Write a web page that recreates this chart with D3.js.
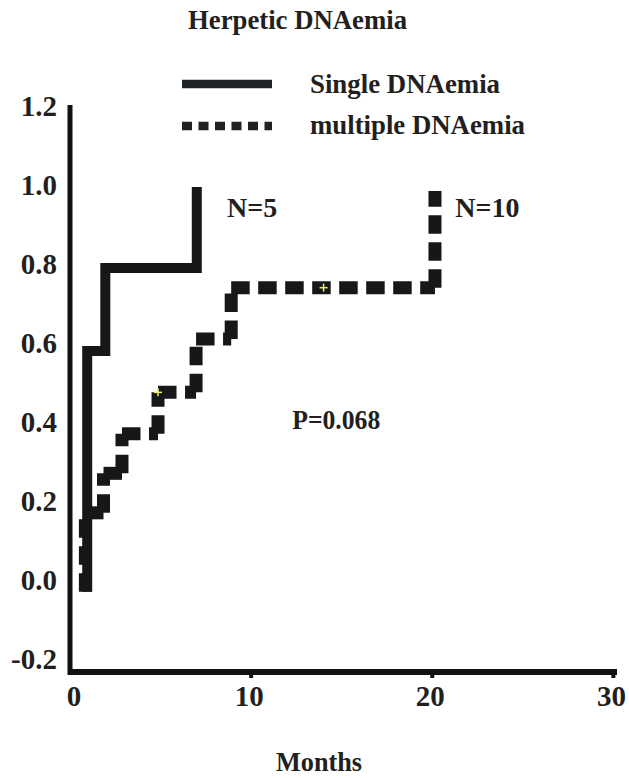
<!DOCTYPE html>
<html lang="en">
<head>
    <meta charset="UTF-8">
    <title>Herpetic DNAemia</title>
    <style>
        body { margin: 0; background: #fff; }
        text {
            font-family: "Liberation Serif", "Times New Roman", serif;
            font-weight: bold;
            fill: #231f20;
        }
        .curve { fill: none; stroke: #161718; stroke-linejoin: miter; }
    </style>
    <script src="https://d3js.org/d3.v7.min.js"></script>
</head>
<body>
    <div id="chart"></div>
    <script>
        // values
        const xTicks = [0, 10, 20, 30];
        const yTicks = [1.2, 1.0, 0.8, 0.6, 0.4, 0.2, 0.0, -0.2];
        const yTickLabels = ["1.2", "1.0", "0.8", "0.6", "0.4", "0.2", "0.0", "-0.2"];

        const startLevel = -0.03;
        const singleMonths = [0.95, 1.95, 7.0];
        const singleCum = [0.58, 0.79, 0.995];
        const multipleMonths = [0.85, 1.85, 2.87, 4.86, 6.96, 8.9, 20.15];
        const multipleCum = [0.17, 0.27, 0.37, 0.475, 0.61, 0.74, 0.985];
        const censorMonths = [4.86, 14.0];
        const censorCum = [0.475, 0.74];

        const width = 629, height = 778;

        const svg = d3.select("#chart")
                      .append("svg")
                      .attr("width", width)
                      .attr("height", height);

        const x = d3.scaleLinear().domain([0, 30.2]).range([70, 617]);
        const y = d3.scaleLinear().domain([-0.233, 1.2]).range([672, 106]);

        // axes (drawn as thick lines like the original)
        svg.append("line")
           .attr("x1", x(0)).attr("x2", x(0))
           .attr("y1", y(1.2) - 1).attr("y2", y(-0.233) + 3)
           .attr("stroke", "#111").attr("stroke-width", 5);
        svg.append("line")
           .attr("x1", x(0) - 2).attr("x2", x(30.2))
           .attr("y1", y(-0.233)).attr("y2", y(-0.233))
           .attr("stroke", "#111").attr("stroke-width", 6);

        svg.selectAll(".xtick")
           .data(xTicks.slice(1))
           .enter()
           .append("line")
           .attr("x1", d => x(d)).attr("x2", d => x(d))
           .attr("y1", y(-0.233)).attr("y2", y(-0.233) + 6)
           .attr("stroke", "#111").attr("stroke-width", 4);

        svg.selectAll(".xlab")
           .data(xTicks)
           .enter()
           .append("text")
           .attr("x", d => x(d) + (d === 0 ? 4 : -2))
           .attr("y", 706)
           .attr("text-anchor", "middle")
           .attr("font-size", 29)
           .text(d => d);

        svg.selectAll(".ylab")
           .data(yTicks)
           .enter()
           .append("text")
           .attr("x", 57)
           .attr("y", d => y(d) + 10)
           .attr("text-anchor", "end")
           .attr("font-size", 29)
           .text((d, i) => yTickLabels[i]);

        // step curves
        const line = d3.line()
                       .x(d => x(d.t))
                       .y(d => y(d.v));

        function steps(months, cum) {
            const pts = [{ t: months[0], v: startLevel }];
            months.forEach((m, i) => pts.push({ t: m, v: cum[i] }));
            return pts;
        }

        svg.append("path")
           .attr("class", "curve")
           .attr("d", line.curve(d3.curveStepAfter)(steps(singleMonths, singleCum)))
           .attr("stroke-width", 10);

        // the dotted curve: every horizontal / vertical piece restarts its dash pattern
        const pts = steps(multipleMonths, multipleCum);
        const segs = [];
        for (let i = 1; i < pts.length; i++) {
            const a = pts[i - 1], b = pts[i];
            if (a.t !== b.t) segs.push([a, { t: b.t, v: a.v }]);
            segs.push([{ t: b.t, v: a.v }, b]);
        }
        const segLine = d3.line().x(d => x(d.t)).y(d => y(d.v));
        svg.selectAll(".mseg")
           .data(segs)
           .enter()
           .append("path")
           .attr("class", "curve")
           .attr("d", d => segLine(d))
           .attr("stroke-width", 13)
           .attr("stroke-dasharray", "18.5,8.5");

        // censor marks
        const cens = svg.selectAll(".cens")
           .data(censorMonths)
           .enter()
           .append("g")
           .attr("transform", (d, i) => `translate(${x(d)},${y(censorCum[i])})`);
        cens.append("line").attr("x1", -4).attr("x2", 4)
            .attr("stroke", "#f2ef6a").attr("stroke-width", 1.5);
        cens.append("line").attr("y1", -4).attr("y2", 4)
            .attr("stroke", "#f2ef6a").attr("stroke-width", 1.5);

        // annotations
        svg.append("text").attr("x", x(8.67)).attr("y", y(0.919))
           .attr("font-size", 28).text("N=5");
        svg.append("text").attr("x", x(21.27)).attr("y", y(0.919))
           .attr("font-size", 28).text("N=10");
        svg.append("text").attr("x", x(12.27)).attr("y", y(0.382))
           .attr("font-size", 28).attr("textLength", 88)
           .attr("lengthAdjust", "spacingAndGlyphs").text("P=0.068");

        // title, legend, axis title
        svg.append("text").attr("x", 188).attr("y", 29)
           .attr("font-size", 28).attr("textLength", 219)
           .attr("lengthAdjust", "spacingAndGlyphs").text("Herpetic DNAemia");

        svg.append("line").attr("x1", 182).attr("x2", 272)
           .attr("y1", 84).attr("y2", 84)
           .attr("stroke", "#1f2326").attr("stroke-width", 8.5);
        svg.append("line").attr("x1", 182).attr("x2", 272)
           .attr("y1", 126).attr("y2", 126)
           .attr("stroke", "#1f2326").attr("stroke-width", 8.5)
           .attr("stroke-dasharray", "10,6.5");

        svg.append("text").attr("x", 310).attr("y", 93)
           .attr("font-size", 28).attr("textLength", 190)
           .attr("lengthAdjust", "spacingAndGlyphs").text("Single DNAemia");
        svg.append("text").attr("x", 310).attr("y", 134)
           .attr("font-size", 28).attr("textLength", 215)
           .attr("lengthAdjust", "spacingAndGlyphs").text("multiple DNAemia");

        svg.append("text").attr("x", 319).attr("y", 771)
           .attr("text-anchor", "middle")
           .attr("font-size", 27).attr("textLength", 86)
           .attr("lengthAdjust", "spacingAndGlyphs").text("Months");
    </script>
</body>
</html>
